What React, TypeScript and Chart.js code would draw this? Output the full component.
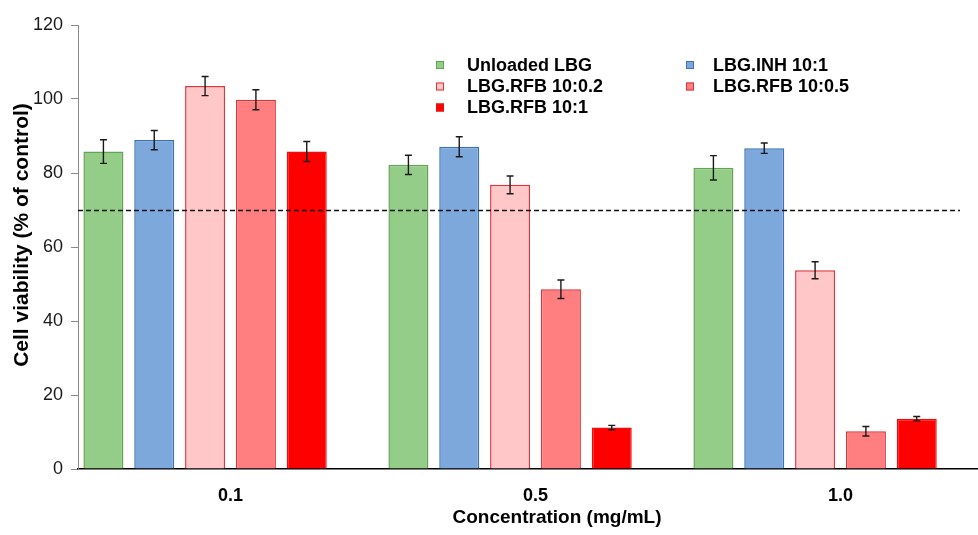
import React, { useEffect, useRef } from "react";
import { Chart, registerables } from "chart.js";

Chart.register(...registerables);

const FONT = "'Liberation Sans', Arial, sans-serif";

const categories = ["0.1", "0.5", "1.0"];
const seriesLabels = ["Unloaded LBG", "LBG.INH 10:1", "LBG.RFB 10:0.2", "LBG.RFB 10:0.5", "LBG.RFB 10:1"];

const unloadedLBG = [85.8, 82.2, 81.4];
const unloadedLBGErr = [3.2, 2.6, 3.3];
const lbgINH = [88.9, 87.1, 86.7];
const lbgINHErr = [2.6, 2.7, 1.4];
const lbgRFB02 = [103.5, 76.8, 53.7];
const lbgRFB02Err = [2.6, 2.4, 2.3];
const lbgRFB05 = [99.8, 48.6, 10.2];
const lbgRFB05Err = [2.7, 2.5, 1.3];
const lbgRFB1 = [85.8, 11.2, 13.6];
const lbgRFB1Err = [2.7, 0.6, 0.6];

const threshold = 70;
const yTicks = [0, 20, 40, 60, 80, 100, 120];

const fills = ["#94CD88", "#7DA8DC", "#FFC7C8", "#FF7F80", "#FF0000"];
const borders = ["#66A255", "#3C72B5", "#E0343C", "#E0343C", "#E81010"];

const values = [unloadedLBG, lbgINH, lbgRFB02, lbgRFB05, lbgRFB1];
const errors = [unloadedLBGErr, lbgINHErr, lbgRFB02Err, lbgRFB05Err, lbgRFB1Err];

const extrasPlugin = {
  id: "extras",
  afterDatasetsDraw(chart: any) {
    const { ctx, chartArea, scales } = chart;
    const y = scales.y;
    // threshold dashed line
    ctx.save();
    ctx.strokeStyle = "#111";
    ctx.lineWidth = 1.5;
    ctx.setLineDash([5, 3]);
    const ty = Math.round(y.getPixelForValue(threshold)) + 0.5;
    ctx.beginPath();
    ctx.moveTo(chartArea.left, ty);
    ctx.lineTo(960, ty);
    ctx.stroke();
    ctx.restore();

    // error bars
    ctx.save();
    ctx.strokeStyle = "#1a1a1a";
    ctx.lineWidth = 1.4;
    errors.forEach((errArr, di) => {
      const meta = chart.getDatasetMeta(di);
      meta.data.forEach((el: any, i: number) => {
        const v = values[di][i];
        const e = errArr[i];
        const x = el.x;
        const yt = y.getPixelForValue(v + e);
        const yb = y.getPixelForValue(v - e);
        ctx.beginPath();
        ctx.moveTo(x, yt);
        ctx.lineTo(x, yb);
        ctx.moveTo(x - 3.5, yt);
        ctx.lineTo(x + 3.5, yt);
        ctx.moveTo(x - 3.5, yb);
        ctx.lineTo(x + 3.5, yb);
        ctx.stroke();
      });
    });
    ctx.restore();
  },
  afterDraw(chart: any) {
    const { ctx } = chart;
    ctx.save();
    // legend (2 columns, row-major)
    const colMarker = [440, 690];
    const colText = [467, 713];
    const rowBase = [71, 92, 113];
    const rowMid = [65, 86.5, 107.5];
    seriesLabels.forEach((lab, i) => {
      const c = i % 2;
      const r = Math.floor(i / 2);
      ctx.fillStyle = fills[i];
      ctx.strokeStyle = borders[i];
      ctx.lineWidth = 1;
      ctx.fillRect(colMarker[c] - 4, rowMid[r] - 4, 8, 8);
      ctx.strokeRect(colMarker[c] - 4 + 0.5, rowMid[r] - 4 + 0.5, 7, 7);
      ctx.fillStyle = "#000";
      ctx.font = `bold 18px ${FONT}`;
      ctx.textAlign = "left";
      ctx.textBaseline = "alphabetic";
      ctx.fillText(lab, colText[c], rowBase[r]);
    });

    // x title
    ctx.fillStyle = "#000";
    ctx.font = `bold 19px ${FONT}`;
    ctx.textAlign = "center";
    ctx.textBaseline = "alphabetic";
    ctx.fillText("Concentration (mg/mL)", 557, 523);

    // y title
    ctx.translate(28, 235);
    ctx.rotate(-Math.PI / 2);
    ctx.font = `bold 21px ${FONT}`;
    ctx.textAlign = "center";
    ctx.textBaseline = "alphabetic";
    ctx.fillText("Cell viability (% of control)", 0, 0);
    ctx.restore();
  },
};

export default function App() {
  const ref = useRef<HTMLCanvasElement | null>(null);

  useEffect(() => {
    if (!ref.current) return;
    Chart.defaults.font.family = FONT;
    const datasets: any[] = seriesLabels.map((lab, i) => ({
      label: lab,
      data: values[i],
      backgroundColor: fills[i],
      borderColor: borders[i],
      borderWidth: 1.5,
      barPercentage: 0.787,
      categoryPercentage: 1.0,
    }));
    // empty sixth slot (as in the original spreadsheet layout)
    datasets.push({
      label: "",
      data: [null, null, null],
      backgroundColor: "transparent",
      barPercentage: 0.787,
      categoryPercentage: 1.0,
    });

    const chart = new Chart(ref.current, {
      type: "bar",
      data: { labels: categories, datasets },
      options: {
        animation: false,
        responsive: true,
        maintainAspectRatio: false,
        layout: { padding: { top: 25, right: 2, left: 0, bottom: 0 } },
        plugins: {
          legend: { display: false },
          tooltip: { enabled: false },
          title: { display: false },
        },
        scales: {
          x: {
            grid: { display: true, drawOnChartArea: false, drawTicks: false, color: "transparent" },
            border: { display: true, color: "#000", width: 1.5 },
            ticks: {
              color: "#000",
              font: { size: 18, weight: "bold", family: FONT },
              padding: 16,
              maxRotation: 0,
            },
            afterFit: (axis: any) => {
              axis.height = 66;
            },
          },
          y: {
            min: 0,
            max: 120,
            afterBuildTicks: (axis: any) => {
              axis.ticks = yTicks.map((v) => ({ value: v }));
            },
            grid: { drawOnChartArea: false, drawTicks: true, tickLength: 7, color: "#8a8a8a", lineWidth: 1 },
            border: { display: true, color: "#8a8a8a", width: 1 },
            ticks: {
              color: "#1a1a1a",
              font: { size: 18, family: FONT },
              padding: 8,
            },
            afterFit: (axis: any) => {
              axis.width = 78;
            },
          },
        },
      },
      plugins: [extrasPlugin],
    });
    return () => chart.destroy();
  }, []);

  return (
    <div style={{ position: "fixed", left: 0, top: 0, width: 978, height: 535, overflow: "hidden", background: "#fff" }}>
      <div style={{ position: "absolute", left: 0, top: 0, width: 995, height: 535 }}>
        <canvas ref={ref} />
      </div>
    </div>
  );
}
